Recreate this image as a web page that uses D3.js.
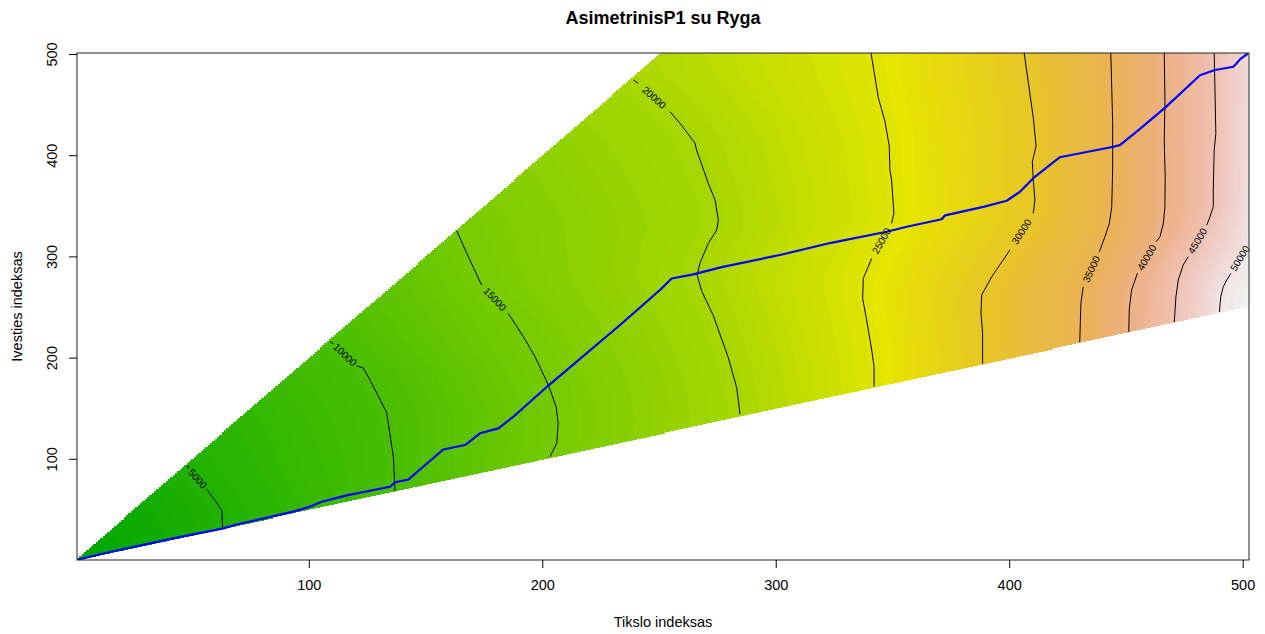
<!DOCTYPE html>
<html>
<head>
<meta charset="utf-8">
<script src="https://cdn.jsdelivr.net/npm/d3@7"></script>
<style>
  body { margin: 0; background: #fff; }
  svg text { font-family: "Liberation Sans", Arial, sans-serif; }
</style>
</head>
<body>
<svg id="chart" width="1265" height="634"></svg>
<script>
// ---- data ----
const xTicks = [100, 200, 300, 400, 500];
const yTicks = [100, 200, 300, 400, 500];
const nRef = 502, nQuery = 501;
const zMax = 51800;

const levels = [5000, 10000, 15000, 20000, 25000, 30000, 35000, 40000, 45000, 50000];
const c5000 = [[62.9,31.8],[62.5,49.9],[58.9,61.5],[56.1,70.4],[48.2,91.1],[47.7,94.4]];
const c10000 = [[136.7,68.7],[136.0,102.6],[133.1,146.4],[126.0,178.4],[123.1,190.3],[120.3,192.3],[110.3,214.2],[108.9,216.2]];
const c15000 = [[203.1,102.6],[206.0,115.8],[206.6,135.6],[205.7,152.0],[202.4,173.4],[196.7,201.4],[191.7,221.2],[185.2,244.3],[173.8,272.2],[168.8,296.9],[163.1,326.0]];
const c20000 = [[284.5,144.5],[283.1,170.4],[279.5,200.3],[273.0,242.2],[268.1,266.1],[266.1,282.1],[267.3,293.7],[270.9,313.4],[274.5,326.6],[275.2,336.5],[273.8,356.2],[270.9,372.7],[265.9,405.6],[265.2,412.3],[258.8,432.0],[254.5,443.5],[240.9,471.5],[238.8,474.8]];
const c25000 = [[341.9,171.7],[341.9,191.5],[340.9,208.0],[338.7,237.7],[337.0,259.1],[337.3,278.9],[340.9,298.6],[349.4,333.2],[350.4,343.1],[349.4,376.0],[348.7,385.9],[348.4,409.8],[346.6,433.7],[343.7,457.6],[340.6,501.5]];
const c30000 = [[388.4,194.5],[388.4,224.5],[387.7,244.3],[388.0,262.4],[392.3,280.4],[400.1,306.8],[410.1,343.1],[410.8,356.2],[410.1,376.0],[409.7,393.8],[411.3,409.8],[410.1,437.6],[407.9,473.5],[406.2,501.5]];
const c35000 = [[430.0,215.5],[430.5,254.1],[431.5,270.6],[438.4,305.1],[440.8,320.0],[442.7,333.2],[443.7,349.6],[444.1,385.9],[444.1,433.7],[443.3,501.5]];
const c40000 = [[451.0,225.8],[451.2,247.5],[452.2,267.3],[454.7,283.8],[462.7,315.0],[464.4,320.0],[465.8,333.2],[466.5,349.6],[466.6,380.0],[466.2,414.4],[466.5,453.6],[466.2,501.5]];
const c45000 = [[470.5,235.5],[471.2,260.7],[472.2,277.2],[474.3,292.0],[476.5,300.2],[484.4,331.5],[485.8,339.7],[487.2,349.6],[487.2,366.1],[487.6,405.7],[488.3,421.7],[487.6,501.5]];
const c50000 = [[489.8,245.5],[490.4,260.7],[491.5,270.6],[493.0,277.2],[494.7,283.8],[502.5,313.5]];
const contourLines = [c5000, c10000, c15000, c20000, c25000, c30000, c35000, c40000, c45000, c50000];
// the label sits on the segment that starts at this index
const labelAt = [3, 5, 7, 15, 6, 5, 2, 3, 4, 4];

// cost along the edges of the band
const upperEdgeY = [1, 94.4, 216.2, 326.0, 474.8, 501.5];
const upperEdgeV = [0, 5000, 10000, 15000, 20000, 20900];
const lowerEdgeX = [1, 62.9, 136.7, 203.1, 284.5, 341.9, 388.4, 430.0, 451.0, 470.5, 489.8, 502.5];
const lowerEdgeV = [0, 5000, 10000, 15000, 20000, 25000, 30000, 35000, 40000, 45000, 50000, 51800];
const rightEdgeY = [251.25, 313.5, 400, 501.5];
const rightEdgeV = [51800, 50000, 49100, 48600];

// warping path
const warpI = [1,14.6,31.8,41.7,63.2,68.9,93.1,100.3,105.3,116.0,134.6,136.7,142.4,147.4,157.4,166.7,173.1,181.0,187.4,202.4,233.1,250.2,255.2,264.5,276.6,301.6,323.0,347.3,355.9,370.9,372.3,388.7,398.7,404.4,410.1,421.5,444.4,447.2,455.8,467.2,481.5,487.9,495.8,497.2,498.6,502];
const warpJ = [1,8.4,17.0,21.9,31.8,35.6,48.3,53.2,58.1,64.3,72.9,77.3,80.0,89.9,109.7,114.1,125.7,130.6,142.1,172.9,232.7,267.3,278.7,282.7,289.9,301.9,313.7,324.9,329.8,337.2,341.1,349.4,355.5,364.4,377.8,398.5,408.9,410.5,426.6,448.8,479.5,484.7,487.9,491.3,495.2,501];

// ---- layout ----
const LEFT = 77, RIGHT = 1249, TOP = 53, BOTTOM = 560;
const svg = d3.select('#chart');

const x = d3.scaleLinear().domain([0.5, nRef + 0.5]).range([LEFT, RIGHT]);
const y = d3.scaleLinear().domain([0.5, nQuery + 0.5]).range([BOTTOM, TOP]);

// terrain.colors(100) as in R
function hsv(h, s, v) {
    const i = Math.floor(h * 6) % 6, f = h * 6 - Math.floor(h * 6);
    const p = v * (1 - s), q = v * (1 - f * s), t = v * (1 - (1 - f) * s);
    const rgb = [[v,t,p],[q,v,p],[p,v,t],[p,q,v],[t,p,v],[v,p,q]][i];
    return rgb.map(c => Math.round(c * 255));
}
function terrainColors(n) {
    const k = Math.floor(n / 2), out = [];
    for (let a = 0; a < k; a++) {
        const f = k > 1 ? a / (k - 1) : 0;
        out.push(hsv(4/12 + (2/12 - 4/12) * f, 1, 0.65 + 0.25 * f));
    }
    const m = n - k + 1;
    for (let a = 1; a < m; a++) {
        const f = a / (m - 1);
        out.push(hsv(2/12 * (1 - f), 1 - f, 0.9 + 0.05 * f));
    }
    return out;
}
const palette = terrainColors(100);

// ---- cost surface: per row, linear between edges and contour crossings ----
const upperV = d3.scaleLinear().domain(upperEdgeY).range(upperEdgeV).clamp(true);
const lowerV = d3.scaleLinear().domain(lowerEdgeX).range(lowerEdgeV).clamp(true);
const rightV = d3.scaleLinear().domain(rightEdgeY).range(rightEdgeV).clamp(true);

function crossAt(pts, yy) {
    for (let k = 0; k < pts.length - 1; k++) {
        const a = pts[k], b = pts[k + 1];
        if (a[1] === b[1]) continue;
        if ((a[1] - yy) * (b[1] - yy) <= 0) return a[0] + (yy - a[1]) / (b[1] - a[1]) * (b[0] - a[0]);
    }
    return null;
}

const grid = new Float32Array((nRef + 1) * (nQuery + 1)).fill(NaN);
for (let j = 1; j <= nQuery; j++) {
    const xl = j / 2, xr = Math.min(2 * j, nRef + 0.5);
    const knots = [[xl, upperV(j)]];
    contourLines.forEach((pts, c) => {
        const cx = crossAt(pts, j);
        if (cx !== null && cx > xl && cx < xr) knots.push([cx, levels[c]]);
    });
    knots.push([xr, 2 * j <= nRef + 0.5 ? lowerV(2 * j) : rightV(j)]);
    knots.sort((a, b) => a[0] - b[0]);
    const clean = knots.filter((kn, idx) => idx === 0 || kn[0] > knots[idx - 1][0] + 1e-6);
    const rowScale = d3.scaleLinear().domain(clean.map(d => d[0])).range(clean.map(d => d[1])).clamp(true);
    for (let i = Math.ceil(j / 2); i <= Math.min(2 * j, nRef); i++) {
        grid[j * (nRef + 1) + i] = rowScale(i);
    }
}

// raster image of the cost matrix
const cw = RIGHT - LEFT, ch = BOTTOM - TOP;
const canvas = document.createElement('canvas');
canvas.width = cw; canvas.height = ch;
const ctx = canvas.getContext('2d');
const img = ctx.createImageData(cw, ch);
for (let py = 0; py < ch; py++) {
    const j = Math.round(y.invert(TOP + py + 0.5));
    for (let px = 0; px < cw; px++) {
        const i = Math.round(x.invert(LEFT + px + 0.5));
        const o = (py * cw + px) * 4;
        let col = [255, 255, 255];
        if (i >= 1 && i <= nRef && j >= 1 && j <= nQuery && 2 * j >= i && j <= 2 * i) {
            const v = grid[j * (nRef + 1) + i];
            if (!isNaN(v)) col = palette[Math.max(0, Math.min(99, Math.floor(v / zMax * 100)))];
        }
        img.data[o] = col[0]; img.data[o + 1] = col[1]; img.data[o + 2] = col[2]; img.data[o + 3] = 255;
    }
}
ctx.putImageData(img, 0, 0);

svg.append('image')
    .attr('x', LEFT).attr('y', TOP)
    .attr('width', cw).attr('height', ch)
    .attr('href', canvas.toDataURL());

// clip for lines
svg.append('defs').append('clipPath').attr('id', 'plot-clip')
    .append('rect').attr('x', LEFT).attr('y', TOP).attr('width', cw).attr('height', ch);
const plot = svg.append('g').attr('clip-path', 'url(#plot-clip)');

// contour lines, broken where the label sits
const line = d3.line().x(d => x(d[0])).y(d => y(d[1]));
contourLines.forEach((pts, c) => {
    const k = labelAt[c];
    plot.append('path').attr('d', line(pts.slice(0, k + 1)))
        .attr('fill', 'none').attr('stroke', '#000').attr('stroke-width', 1);
    plot.append('path').attr('d', line(pts.slice(k + 1)))
        .attr('fill', 'none').attr('stroke', '#000').attr('stroke-width', 1);

    const x1 = x(pts[k][0]), y1 = y(pts[k][1]);
    const x2 = x(pts[k + 1][0]), y2 = y(pts[k + 1][1]);
    let ang = Math.atan2(y2 - y1, x2 - x1) * 180 / Math.PI;
    if (ang > 90) ang -= 180;
    if (ang <= -90) ang += 180;
    svg.append('text')
        .attr('transform', `translate(${(x1 + x2) / 2},${(y1 + y2) / 2}) rotate(${ang})`)
        .attr('text-anchor', 'middle').attr('dominant-baseline', 'central')
        .style('font-size', '10px').style('fill', '#000')
        .text(levels[c]);
});

// warping path
const warp = warpI.map((d, k) => [d, warpJ[k]]);
plot.append('path').attr('d', line(warp))
    .attr('fill', 'none').attr('stroke', '#0000ff').attr('stroke-width', 2.2)
    .attr('stroke-linejoin', 'round');

// box
svg.append('rect')
    .attr('x', LEFT).attr('y', TOP).attr('width', cw).attr('height', ch)
    .attr('fill', 'none').attr('stroke', '#222').attr('stroke-width', 1);

// axes
const xAxis = svg.append('g');
xTicks.forEach(t => {
    xAxis.append('line').attr('x1', x(t)).attr('x2', x(t)).attr('y1', BOTTOM).attr('y2', BOTTOM + 8)
        .attr('stroke', '#000');
    xAxis.append('text').attr('x', x(t)).attr('y', BOTTOM + 30)
        .attr('text-anchor', 'middle').style('font-size', '14.5px').style('fill', '#000')
        .text(t);
});
const yAxis = svg.append('g');
yTicks.forEach(t => {
    yAxis.append('line').attr('x1', LEFT - 8).attr('x2', LEFT).attr('y1', y(t)).attr('y2', y(t))
        .attr('stroke', '#000');
    yAxis.append('text').attr('transform', `translate(${LEFT - 20.5},${y(t)}) rotate(-90)`)
        .attr('text-anchor', 'middle').style('font-size', '14.5px').style('fill', '#000')
        .text(t);
});

// titles
svg.append('text').attr('x', (LEFT + RIGHT) / 2).attr('y', 24)
    .attr('text-anchor', 'middle').style('font-size', '18px').style('font-weight', 'bold')
    .text('AsimetrinisP1 su Ryga');
svg.append('text').attr('x', (LEFT + RIGHT) / 2).attr('y', 627)
    .attr('text-anchor', 'middle').style('font-size', '14.5px')
    .text('Tikslo indeksas');
svg.append('text').attr('transform', `translate(21.5,${(TOP + BOTTOM) / 2}) rotate(-90)`)
    .attr('text-anchor', 'middle').style('font-size', '14.5px')
    .text('Ivesties indeksas');
</script>
</body>
</html>
